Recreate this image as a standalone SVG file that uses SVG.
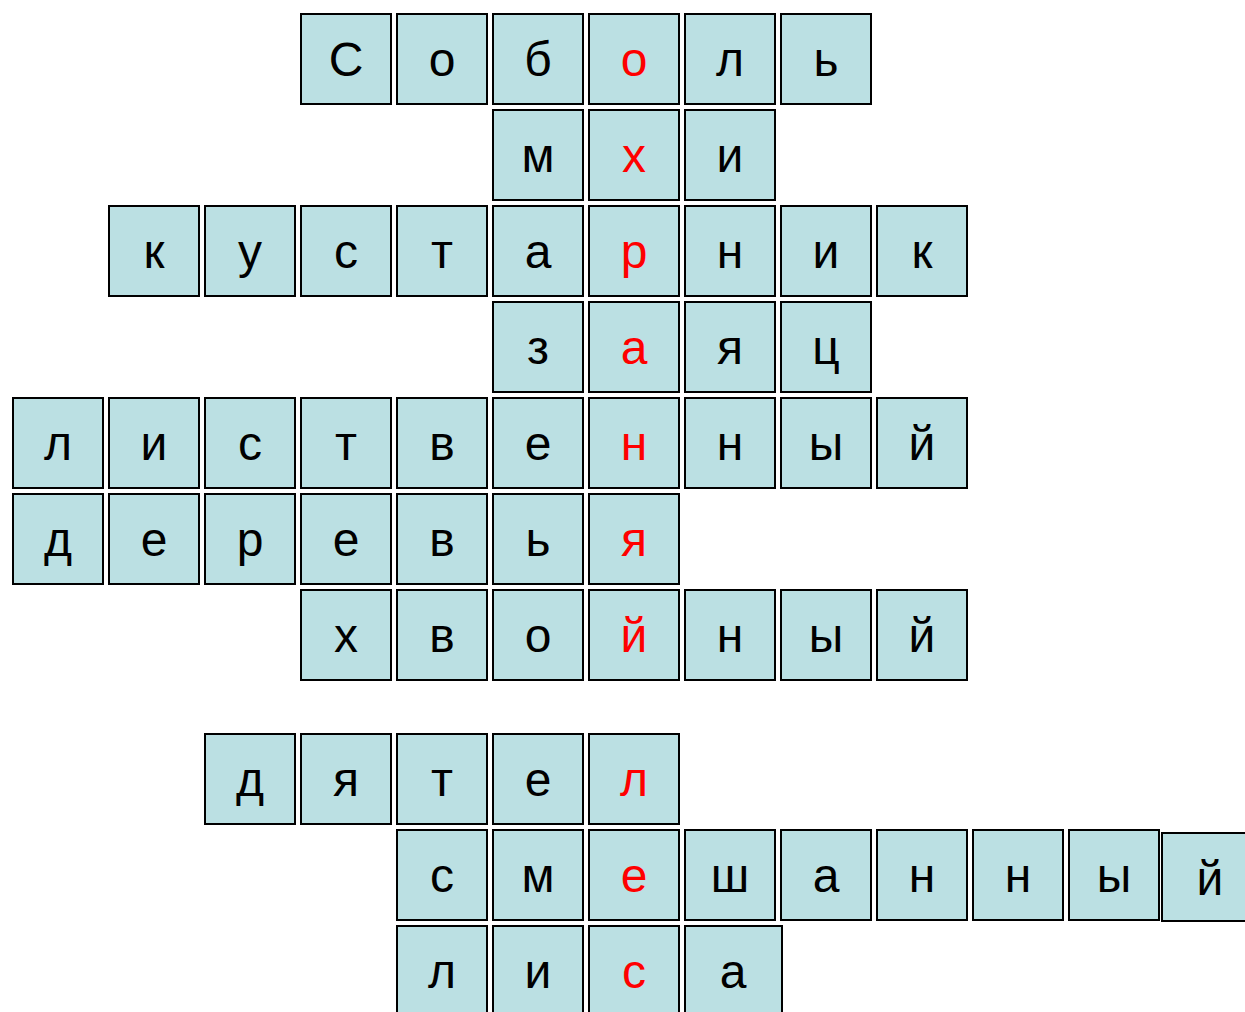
<svg xmlns="http://www.w3.org/2000/svg" width="1245" height="1012" viewBox="0 0 1245 1012">
<style>
.c{fill:#BBE0E3;stroke:#000;stroke-width:2}
.t{font-family:"Liberation Sans",Arial,sans-serif;font-size:48px;text-anchor:middle;fill:#000}
.r{fill:#FF0000}
</style>
<rect width="1245" height="1012" fill="#fff"/>
<defs>
<rect id="cell" class="c" width="90" height="90"/>
</defs>
<g id="word1">
<use href="#cell" x="301" y="14"/><text class="t" x="346" y="76">С</text>
<use href="#cell" x="397" y="14"/><text class="t" x="442" y="76">о</text>
<use href="#cell" x="493" y="14"/><text class="t" x="538" y="76">б</text>
<use href="#cell" x="589" y="14"/><text class="t r" x="634" y="76">о</text>
<use href="#cell" x="685" y="14"/><text class="t" x="730" y="76">л</text>
<use href="#cell" x="781" y="14"/><text class="t" x="826" y="76">ь</text>
</g>
<g id="word2">
<use href="#cell" x="493" y="110"/><text class="t" x="538" y="172">м</text>
<use href="#cell" x="589" y="110"/><text class="t r" x="634" y="172">х</text>
<use href="#cell" x="685" y="110"/><text class="t" x="730" y="172">и</text>
</g>
<g id="word3">
<use href="#cell" x="109" y="206"/><text class="t" x="154" y="268">к</text>
<use href="#cell" x="205" y="206"/><text class="t" x="250" y="268">у</text>
<use href="#cell" x="301" y="206"/><text class="t" x="346" y="268">с</text>
<use href="#cell" x="397" y="206"/><text class="t" x="442" y="268">т</text>
<use href="#cell" x="493" y="206"/><text class="t" x="538" y="268">а</text>
<use href="#cell" x="589" y="206"/><text class="t r" x="634" y="268">р</text>
<use href="#cell" x="685" y="206"/><text class="t" x="730" y="268">н</text>
<use href="#cell" x="781" y="206"/><text class="t" x="826" y="268">и</text>
<use href="#cell" x="877" y="206"/><text class="t" x="922" y="268">к</text>
</g>
<g id="word4">
<use href="#cell" x="493" y="302"/><text class="t" x="538" y="364">з</text>
<use href="#cell" x="589" y="302"/><text class="t r" x="634" y="364">а</text>
<use href="#cell" x="685" y="302"/><text class="t" x="730" y="364">я</text>
<use href="#cell" x="781" y="302"/><text class="t" x="826" y="364">ц</text>
</g>
<g id="word5">
<use href="#cell" x="13" y="398"/><text class="t" x="58" y="460">л</text>
<use href="#cell" x="109" y="398"/><text class="t" x="154" y="460">и</text>
<use href="#cell" x="205" y="398"/><text class="t" x="250" y="460">с</text>
<use href="#cell" x="301" y="398"/><text class="t" x="346" y="460">т</text>
<use href="#cell" x="397" y="398"/><text class="t" x="442" y="460">в</text>
<use href="#cell" x="493" y="398"/><text class="t" x="538" y="460">е</text>
<use href="#cell" x="589" y="398"/><text class="t r" x="634" y="460">н</text>
<use href="#cell" x="685" y="398"/><text class="t" x="730" y="460">н</text>
<use href="#cell" x="781" y="398"/><text class="t" x="826" y="460">ы</text>
<use href="#cell" x="877" y="398"/><text class="t" x="922" y="460">й</text>
</g>
<g id="word6">
<use href="#cell" x="13" y="494"/><text class="t" x="58" y="556">д</text>
<use href="#cell" x="109" y="494"/><text class="t" x="154" y="556">е</text>
<use href="#cell" x="205" y="494"/><text class="t" x="250" y="556">р</text>
<use href="#cell" x="301" y="494"/><text class="t" x="346" y="556">е</text>
<use href="#cell" x="397" y="494"/><text class="t" x="442" y="556">в</text>
<use href="#cell" x="493" y="494"/><text class="t" x="538" y="556">ь</text>
<use href="#cell" x="589" y="494"/><text class="t r" x="634" y="556">я</text>
</g>
<g id="word7">
<use href="#cell" x="301" y="590"/><text class="t" x="346" y="652">х</text>
<use href="#cell" x="397" y="590"/><text class="t" x="442" y="652">в</text>
<use href="#cell" x="493" y="590"/><text class="t" x="538" y="652">о</text>
<use href="#cell" x="589" y="590"/><text class="t r" x="634" y="652">й</text>
<use href="#cell" x="685" y="590"/><text class="t" x="730" y="652">н</text>
<use href="#cell" x="781" y="590"/><text class="t" x="826" y="652">ы</text>
<use href="#cell" x="877" y="590"/><text class="t" x="922" y="652">й</text>
</g>
<g id="word8">
<use href="#cell" x="205" y="734"/><text class="t" x="250" y="796">д</text>
<use href="#cell" x="301" y="734"/><text class="t" x="346" y="796">я</text>
<use href="#cell" x="397" y="734"/><text class="t" x="442" y="796">т</text>
<use href="#cell" x="493" y="734"/><text class="t" x="538" y="796">е</text>
<use href="#cell" x="589" y="734"/><text class="t r" x="634" y="796">л</text>
</g>
<g id="word9">
<use href="#cell" x="397" y="830"/><text class="t" x="442" y="892">с</text>
<use href="#cell" x="493" y="830"/><text class="t" x="538" y="892">м</text>
<use href="#cell" x="589" y="830"/><text class="t r" x="634" y="892">е</text>
<use href="#cell" x="685" y="830"/><text class="t" x="730" y="892">ш</text>
<use href="#cell" x="781" y="830"/><text class="t" x="826" y="892">а</text>
<use href="#cell" x="877" y="830"/><text class="t" x="922" y="892">н</text>
<use href="#cell" x="973" y="830"/><text class="t" x="1018" y="892">н</text>
<use href="#cell" x="1069" y="830"/><text class="t" x="1114" y="892">ы</text>
<rect class="c" x="1162" y="833" width="90" height="88"/><text class="t" x="1210" y="895">й</text>
</g>
<g id="word10">
<use href="#cell" x="397" y="926"/><text class="t" x="442" y="988">л</text>
<use href="#cell" x="493" y="926"/><text class="t" x="538" y="988">и</text>
<use href="#cell" x="589" y="926"/><text class="t r" x="634" y="988">с</text>
<rect class="c" x="685" y="926" width="97" height="90"/><text class="t" x="733" y="988">а</text>
</g>
<g id="connectors"/>
</svg>
